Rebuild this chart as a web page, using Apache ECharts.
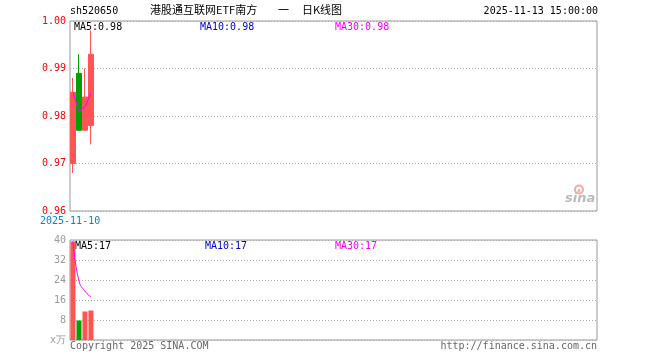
<!DOCTYPE html>
<html><head><meta charset="utf-8">
<script src="https://cdn.jsdelivr.net/npm/echarts@6/dist/echarts.min.js"></script>
<style>html,body{margin:0;padding:0;background:#fff}#c{width:660px;height:360px}</style>
</head><body><div id="c"></div>
<script>
const dates = ['2025-11-10','2025-11-11','2025-11-12','2025-11-13'];
const slotCount = 88;
// [open, close, low, high]
const kData = [
  [0.970, 0.985, 0.968, 0.988],
  [0.989, 0.977, 0.977, 0.993],
  [0.977, 0.984, 0.977, 0.990],
  [0.978, 0.993, 0.974, 0.998]
];
const ma5Price = [0.985, 0.981, 0.982, 0.9848];
const volumes = [39.4, 7.8, 11.4, 11.8];
const volDir = [1, -1, 1, 1];
const ma5Vol = [39.4, 23.6, 19.5, 17.2];
const priceTicks = [0.96, 0.97, 0.98, 0.99, 1.00];
const volTicks = [0, 8, 16, 24, 32, 40];

const UP = '#ff5555', DOWN = '#00a000';
const mono = '"DejaVu Sans Mono", monospace';
const cjk = '11px "Noto Sans CJK SC", sans-serif';
const cats = dates.concat(Array(slotCount - dates.length).fill(''));

const chart = echarts.init(document.getElementById('c'), null, {renderer:'canvas'});
chart.setOption({
  animation: false,
  backgroundColor: '#fff',
  grid: [
    {left:70, top:21, width:527, height:190, show:true, borderColor:'#999', borderWidth:1, backgroundColor:'transparent'},
    {left:70, top:240, width:527, height:100, show:true, borderColor:'#999', borderWidth:1, backgroundColor:'transparent'}
  ],
  xAxis: [
    {type:'category', gridIndex:0, data:cats, boundaryGap:true, axisLine:{show:false}, axisTick:{show:false}, axisLabel:{show:false}, splitLine:{show:false}},
    {type:'category', gridIndex:1, data:cats, boundaryGap:true, axisLine:{show:false}, axisTick:{show:false}, axisLabel:{show:false}, splitLine:{show:false}}
  ],
  yAxis: [
    {type:'value', gridIndex:0, min:priceTicks[0], max:priceTicks[priceTicks.length-1], interval:0.01,
     axisLine:{show:false}, axisTick:{show:false},
     axisLabel:{color:'#ff0000', fontFamily:mono, fontSize:10, margin:4, formatter:v=>v.toFixed(2)},
     splitLine:{show:true, lineStyle:{color:'#aaa', type:[1,2], width:1}}},
    {type:'value', gridIndex:1, min:volTicks[0], max:volTicks[volTicks.length-1], interval:8,
     axisLine:{show:false}, axisTick:{show:false},
     axisLabel:{color:'#999', fontFamily:mono, fontSize:10, margin:4, formatter:v=>v===0?'x万':String(v)},
     splitLine:{show:true, lineStyle:{color:'#aaa', type:[1,2], width:1}}}
  ],
  series: [
    {type:'candlestick', xAxisIndex:0, yAxisIndex:0, data:kData, barWidth:5,
     itemStyle:{color:UP, color0:DOWN, borderColor:UP, borderColor0:DOWN, borderWidth:1}},
    {type:'line', xAxisIndex:0, yAxisIndex:0, data:ma5Price, symbol:'none',
     lineStyle:{color:'#ff00ff', width:1}},
    {type:'bar', xAxisIndex:1, yAxisIndex:1, barWidth:5,
     data:volumes.map((v,i)=>({value:v, itemStyle:{color: volDir[i]>0?UP:DOWN}}))},
    {type:'line', xAxisIndex:1, yAxisIndex:1, data:ma5Vol, symbol:'none', smooth:true,
     lineStyle:{color:'#ff00ff', width:1}}
  ],
  graphic: [
    {type:'text', left:70, top:6, style:{text:'sh520650', font:'10px '+mono, fill:'#000'}},
    {type:'text', left:150, top:4, style:{text:'港股通互联网ETF南方', font:cjk, fill:'#000'}},
    {type:'text', left:278, top:4, style:{text:'一', font:cjk, fill:'#000'}},
    {type:'text', left:302, top:4, style:{text:'日K线图', font:cjk, fill:'#000'}},
    {type:'text', right:62, top:6, style:{text:'2025-11-13 15:00:00', font:'10px '+mono, fill:'#000'}},
    {type:'text', left:74, top:22, style:{text:'MA5:0.98', font:'10px '+mono, fill:'#000'}},
    {type:'text', left:200, top:22, style:{text:'MA10:0.98', font:'10px '+mono, fill:'#0000cc'}},
    {type:'text', left:335, top:22, style:{text:'MA30:0.98', font:'10px '+mono, fill:'#ff00ff'}},
    {type:'text', left:40, top:216, style:{text:dates[0], font:'10px '+mono, fill:'#0a80d0'}},
    {type:'text', left:75, top:241, style:{text:'MA5:17', font:'10px '+mono, fill:'#000'}},
    {type:'text', left:205, top:241, style:{text:'MA10:17', font:'10px '+mono, fill:'#0000cc'}},
    {type:'text', left:335, top:241, style:{text:'MA30:17', font:'10px '+mono, fill:'#ff00ff'}},
    {type:'text', left:70, top:341, style:{text:'Copyright 2025 SINA.COM', font:'10px '+mono, fill:'#666'}},
    {type:'text', right:63, top:341, style:{text:'http://finance.sina.com.cn', font:'10px '+mono, fill:'#666'}},
    {type:'group', left:565, top:183, children:[
      {type:'circle', shape:{cx:14, cy:7, r:4}, style:{fill:'none', stroke:'#f7a8a8', lineWidth:2}},
      {type:'circle', shape:{cx:14, cy:8, r:1.5}, style:{fill:'#f7a8a8'}},
      {type:'text', x:0, y:10, style:{text:'sina', font:'italic bold 13px "DejaVu Sans", sans-serif', fill:'#bbb'}}
    ]}
  ]
});
</script></body></html>
